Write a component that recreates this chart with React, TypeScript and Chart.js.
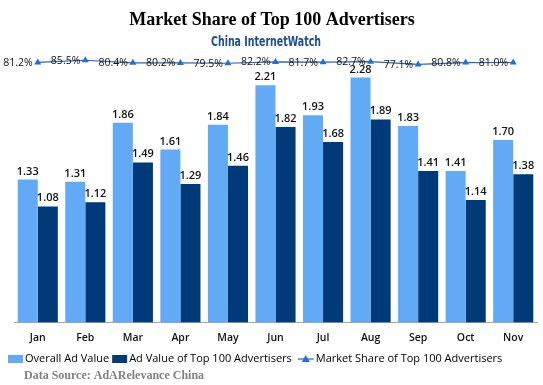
import React, { useEffect, useRef } from "react";
import { Chart, registerables } from "chart.js";

Chart.register(...registerables);

const categories = ["Jan", "Feb", "Mar", "Apr", "May", "Jun", "Jul", "Aug", "Sep", "Oct", "Nov"];
const overallAdValue = [1.33, 1.31, 1.86, 1.61, 1.84, 2.21, 1.93, 2.28, 1.83, 1.41, 1.7];
const top100AdValue = [1.08, 1.12, 1.49, 1.29, 1.46, 1.82, 1.68, 1.89, 1.41, 1.14, 1.38];
const marketShare = [81.2, 85.5, 80.4, 80.2, 79.5, 82.2, 81.7, 82.7, 77.1, 80.8, 81.0];

const seriesNames = ["Overall Ad Value", "Ad Value of Top 100 Advertisers", "Market Share of Top 100 Advertisers"];
const titleText = "Market Share of Top 100 Advertisers";
const subtitleText = "China InternetWatch";
const sourceText = "Data Source: AdARelevance China";

const LIGHT = "#63aaf6";
const DARK = "#003a78";
const LINE = "#2a66b3";
const MARK = "#1c6fdc";

const textPlugin = {
  id: "customText",
  beforeDraw(chart: any) {
    const ctx = chart.ctx;
    ctx.save();
    ctx.fillStyle = "#ffffff";
    ctx.fillRect(0, 0, chart.width, chart.height);
    ctx.restore();
  },
  afterDatasetsDraw(chart: any) {
    const ctx = chart.ctx;
    ctx.save();
    ctx.font = "600 11px 'Open Sans'";
    ctx.fillStyle = "#111";
    ctx.textAlign = "center";
    ctx.textBaseline = "alphabetic";
    [0, 1].forEach((di) => {
      const meta = chart.getDatasetMeta(di);
      const vals = chart.data.datasets[di].data as number[];
      meta.data.forEach((el: any, i: number) => {
        ctx.fillText(vals[i].toFixed(2), el.x, el.y - 5);
      });
    });
    ctx.font = "10.5px 'Open Sans'";
    ctx.textAlign = "right";
    ctx.textBaseline = "middle";
    const lm = chart.getDatasetMeta(2);
    const lv = chart.data.datasets[2].data as number[];
    lm.data.forEach((el: any, i: number) => {
      ctx.fillText(lv[i].toFixed(1) + "%", el.x - 5, el.y + 0.5);
    });
    ctx.restore();
  },
  afterDraw(chart: any) {
    const ctx = chart.ctx;
    const W = chart.width;
    ctx.save();
    ctx.fillStyle = "#000";
    ctx.textAlign = "center";
    ctx.textBaseline = "alphabetic";
    ctx.font = "bold 18px 'Liberation Serif'";
    ctx.fillText(titleText, W / 2 + 0.5, 25);
    ctx.font = "bold 14px 'Liberation Sans Narrow', 'DejaVu Sans Condensed', sans-serif";
    const sw = ctx.measureText(subtitleText).width;
    const targetW = 110;
    ctx.save();
    ctx.translate(266, 46);
    ctx.scale(targetW / sw, 1);
    ctx.fillStyle = "#1d4e8f";
    ctx.textAlign = "center";
    ctx.fillText(subtitleText, 0, 0);
    ctx.restore();

    const ly = 359;
    let x = 8;
    ctx.font = "11px 'Open Sans'";
    ctx.textAlign = "left";
    ctx.textBaseline = "middle";
    ctx.fillStyle = LIGHT;
    ctx.fillRect(x, ly - 4, 15, 8);
    x += 17;
    ctx.fillStyle = "#000";
    ctx.fillText(seriesNames[0], x, ly);
    x += ctx.measureText(seriesNames[0]).width + 3;
    ctx.fillStyle = DARK;
    ctx.fillRect(x, ly - 4, 15, 8);
    x += 17;
    ctx.fillStyle = "#000";
    ctx.fillText(seriesNames[1], x, ly);
    x += ctx.measureText(seriesNames[1]).width + 6;
    ctx.strokeStyle = LINE;
    ctx.lineWidth = 1.2;
    ctx.beginPath();
    ctx.moveTo(x, ly);
    ctx.lineTo(x + 16, ly);
    ctx.stroke();
    ctx.fillStyle = MARK;
    ctx.beginPath();
    ctx.moveTo(x + 8, ly - 4);
    ctx.lineTo(x + 12, ly + 3);
    ctx.lineTo(x + 4, ly + 3);
    ctx.closePath();
    ctx.fill();
    x += 18;
    ctx.fillStyle = "#000";
    ctx.fillText(seriesNames[2], x, ly);

    ctx.font = "bold 12px 'Liberation Serif'";
    ctx.fillStyle = "#808080";
    ctx.textBaseline = "alphabetic";
    ctx.fillText(sourceText, 24, 379);
    ctx.restore();
  },
};

export default function App() {
  const ref = useRef<HTMLCanvasElement | null>(null);
  useEffect(() => {
    if (!ref.current) return;
    const chart = new Chart(ref.current, {
      type: "bar",
      data: {
        labels: categories,
        datasets: [
          {
            type: "bar",
            label: seriesNames[0],
            data: overallAdValue,
            backgroundColor: LIGHT,
            borderWidth: 0,
            yAxisID: "y",
            order: 2,
            categoryPercentage: 0.844,
            barPercentage: 1,
          },
          {
            type: "bar",
            label: seriesNames[1],
            data: top100AdValue,
            backgroundColor: DARK,
            borderWidth: 0,
            yAxisID: "y",
            order: 2,
            categoryPercentage: 0.844,
            barPercentage: 1,
          },
          {
            type: "line",
            label: seriesNames[2],
            data: marketShare,
            borderColor: LINE,
            borderWidth: 1.2,
            backgroundColor: MARK,
            pointStyle: "triangle",
            pointRadius: 4,
            pointBorderWidth: 0,
            pointBackgroundColor: MARK,
            yAxisID: "y2",
            order: 0,
            tension: 0,
          } as any,
        ],
      },
      options: {
        animation: false,
        responsive: false,
        events: [],
        layout: { padding: { top: 54, left: 14, right: 6, bottom: 32 } },
        plugins: {
          legend: { display: false },
          tooltip: { enabled: false },
          title: { display: false },
        },
        scales: {
          x: {
            grid: { display: false, drawTicks: false },
            border: { display: true, color: "#a6a6a6", width: 1 },
            ticks: {
              color: "#111",
              font: { family: "'Open Sans'", size: 10.5, weight: 600 as any },
              padding: 9,
              maxRotation: 0,
            },
          },
          y: { display: false, min: 0, max: 2.5 },
          y2: { display: false, min: -440, max: 98, position: "right" },
        },
      },
      plugins: [textPlugin],
    });
    return () => chart.destroy();
  }, []);
  return (
    <div style={{ position: "absolute", left: 0, top: 0, width: 543, height: 385, background: "#fff" }}>
      <canvas ref={ref} width={543} height={385} style={{ display: "block" }} />
    </div>
  );
}
